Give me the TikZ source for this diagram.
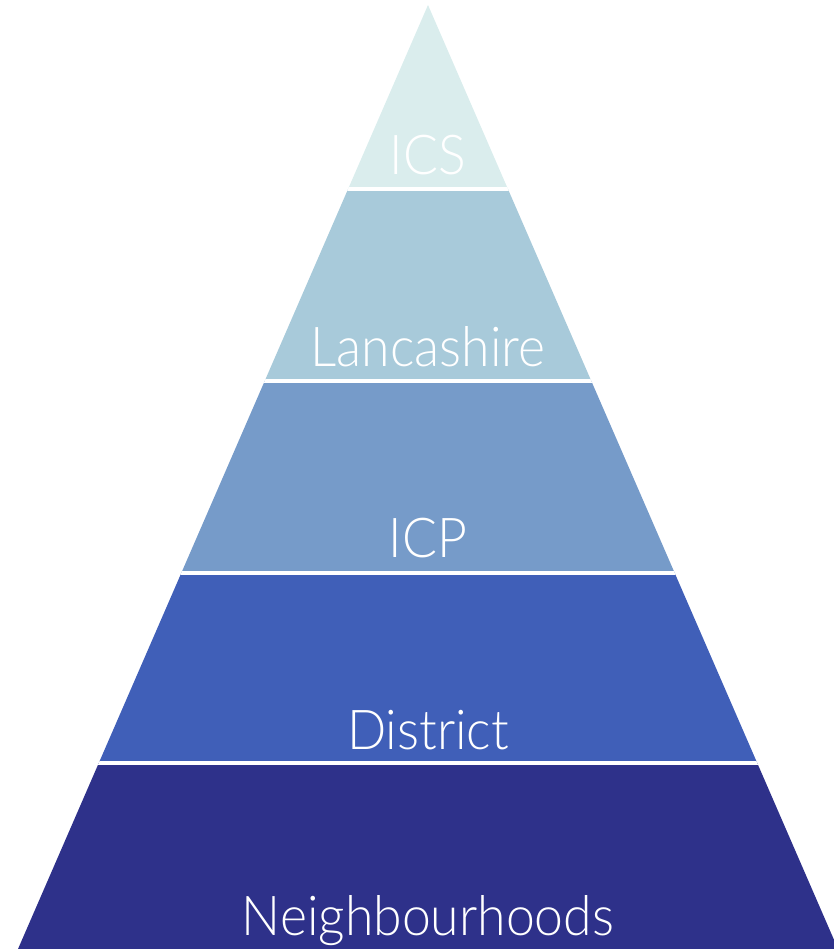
\documentclass[tikz,border=0pt]{standalone}
\usepackage{fontspec}
\setmainfont{Lato}[UprightFont={* Light}, FakeStretch=0.94]
\usepackage{xcolor}
\usetikzlibrary{positioning,calc}

\definecolor{icscol}{HTML}{DAEDED}
\definecolor{lancol}{HTML}{A8CADA}
\definecolor{icpcol}{HTML}{769BC9}
\definecolor{discol}{HTML}{405FB8}
\definecolor{neicol}{HTML}{2E318A}

\tikzset{
    tierlabel/.style={text=white, inner sep=0pt, anchor=base,
        font=\fontsize{55}{60}\selectfont},
    tiergap/.style={white, line width=4pt}
}

\begin{document}
\begin{tikzpicture}[x=1pt,y=-1pt]
    \useasboundingbox (0,0) rectangle (834,949);
    \coordinate (apex) at (428,5);
    \coordinate (baseL) at (18,949);
    \coordinate (baseR) at (838,949);

    % Pyramid bands
    \begin{scope}
        \clip (apex) -- (baseL) -- (baseR) -- cycle;
        \fill[icscol] (0,0) rectangle (834,189);
        \fill[lancol] (0,189) rectangle (834,381);
        \fill[icpcol] (0,381) rectangle (834,573);
        \fill[discol] (0,573) rectangle (834,763);
        \fill[neicol] (0,763) rectangle (834,949);
        % white gaps between tiers
        \draw[tiergap] (0,189) -- (834,189);
        \draw[tiergap] (0,381) -- (834,381);
        \draw[tiergap] (0,573) -- (834,573);
        \draw[tiergap] (0,763) -- (834,763);
    \end{scope}

    % Labels
    \node[tierlabel] (ics) at (428,175) {ICS};
    \node[tierlabel] (lancs) at (428,366) {Lancashire};
    \node[tierlabel] (icp) at (428,557) {ICP};
    \node[tierlabel] (district) at (428,749) {District};
    \node[tierlabel] (neighbourhoods) at (428,935) {Neighbourhoods};
\end{tikzpicture}
\end{document}
